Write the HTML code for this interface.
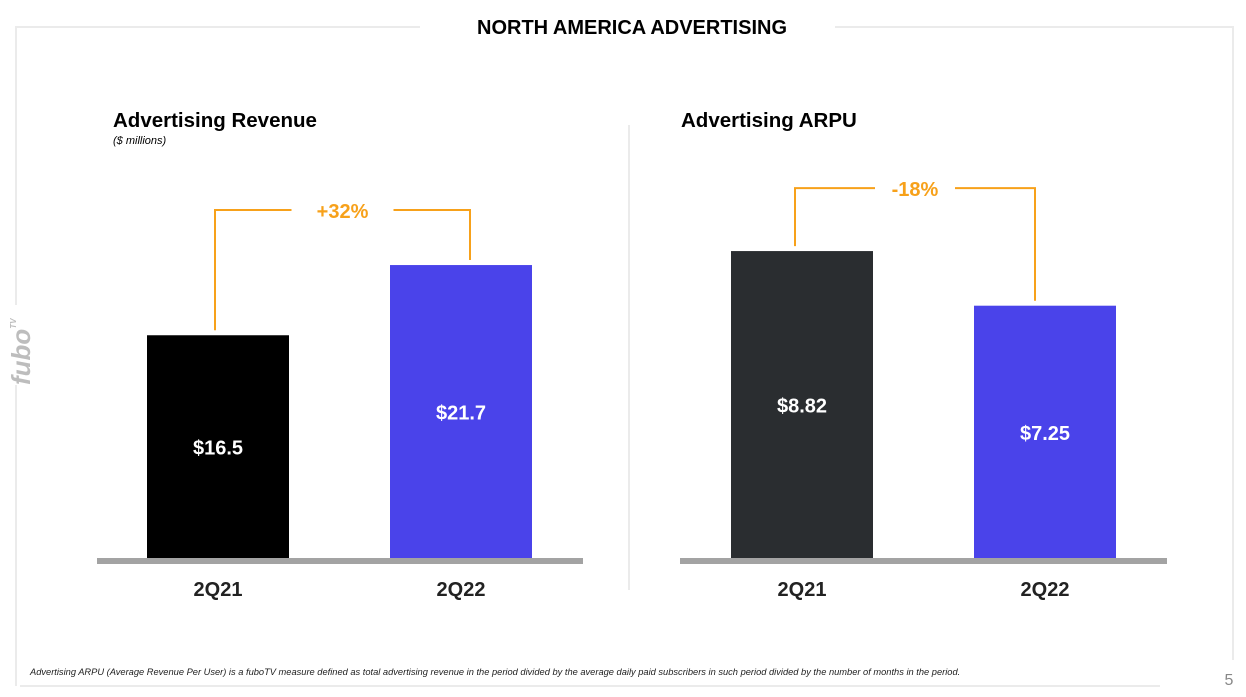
<!DOCTYPE html>
<html><head><meta charset="utf-8"><style>
body{margin:0;width:1246px;height:697px;background:#fff;overflow:hidden;font-family:"Liberation Sans",sans-serif;}
svg{display:block}
</style></head><body>
<svg width="1246" height="697">
<g stroke="#ebebeb" stroke-width="2" fill="none">
<polyline points="420,27 16,27 16,305"/>
<line x1="16" y1="385" x2="16" y2="686"/>
<polyline points="835,27 1233,27 1233,660"/>
<line x1="20" y1="686" x2="1160" y2="686"/>
<line x1="629" y1="125" x2="629" y2="590"/>
</g>
<text x="632" y="34" text-anchor="middle" font-weight="bold" font-size="20">NORTH AMERICA ADVERTISING</text>
<text x="113" y="127" font-weight="bold" font-size="20.5">Advertising Revenue</text>
<text x="113" y="144" font-style="italic" font-size="11">($ millions)</text>
<text x="681" y="127" font-weight="bold" font-size="20.5">Advertising ARPU</text>
<text transform="translate(30,385) rotate(-90)" font-weight="bold" font-style="italic" font-size="26" fill="#bdbdbd">fubo<tspan font-size="8" dy="-14">TV</tspan></text>
<text x="30" y="675" font-style="italic" font-size="9.3" fill="#222">Advertising ARPU (Average Revenue Per User) is a fuboTV measure defined as total advertising revenue in the period divided by the average daily paid subscribers in such period divided by the number of months in the period.</text>
<text x="1229" y="685" font-size="16" fill="#888" text-anchor="middle">5</text>
<g id="c1"></g><g id="c2"></g>
</svg>
<script>
const categories = ["2Q21","2Q22"];
const revenueValues = [16.5, 21.7];
const revenueLabels = ["$16.5","$21.7"];
const revenueChange = "+32%";
const arpuValues = [8.82, 7.25];
const arpuLabels = ["$8.82","$7.25"];
const arpuChange = "-18%";

const NS="http://www.w3.org/2000/svg";
function mk(parent,tag,attrs){const e=document.createElementNS(NS,tag);for(const k in attrs)e.setAttribute(k,attrs[k]);parent.appendChild(e);return e;}
function drawChart(g,vals,labels,change,cfg){
  const base=558;
  const y=v=>base-v*cfg.scale;
  const ax=mk(g,'rect',{x:cfg.axisX,y:558,width:cfg.axisW,height:6,fill:'#a3a3a3'});
  
  
  const tops=[];
  vals.forEach((v,i)=>{
    const x=cfg.barX[i];
    const r=mk(g,'rect',{x:x,y:y(v),width:142,height:base-y(v),fill:cfg.colors[i]});
    
    
    tops.push(y(v));
    const t=mk(g,'text',{x:x+71,y:(y(v)+base)/2+8,'text-anchor':'middle','font-weight':'bold','font-size':20,fill:'#fff'});
    t.textContent=labels[i];
    
    
    const c=mk(g,'text',{x:x+71,y:596,'text-anchor':'middle','font-weight':'bold','font-size':20,fill:'#222'});
    c.textContent=categories[i];
    
    
  });
  const top=Math.min(...tops)-cfg.bracketGap;
  const x1=cfg.barX[0]+cfg.off[0],x2=cfg.barX[1]+cfg.off[1],mid=(x1+x2)/2;
  const p=mk(g,'polyline',{points:`${x1},${tops[0]-5} ${x1},${top} ${mid-cfg.half},${top}`,fill:'none',stroke:'#f7a11a','stroke-width':2});
  
  
  const p2=mk(g,'polyline',{points:`${mid+cfg.half},${top} ${x2},${top} ${x2},${tops[1]-5}`,fill:'none',stroke:'#f7a11a','stroke-width':2});
  
  
  const ct=mk(g,'text',{x:mid,y:top+8,'text-anchor':'middle','font-weight':'bold','font-size':20,fill:'#f7a11a'});
  ct.textContent=change;
  
  
}
drawChart(document.getElementById('c1'),revenueValues,revenueLabels,revenueChange,{scale:13.5,axisX:97,axisW:486,barX:[147,390],colors:['#000000','#4a43ea'],bracketGap:55,off:[68,80],half:51});
drawChart(document.getElementById('c2'),arpuValues,arpuLabels,arpuChange,{scale:34.8,axisX:680,axisW:487,barX:[731,974],colors:['#2a2d30','#4a43ea'],bracketGap:63,off:[64,61],half:40});
</script>
</body></html>
